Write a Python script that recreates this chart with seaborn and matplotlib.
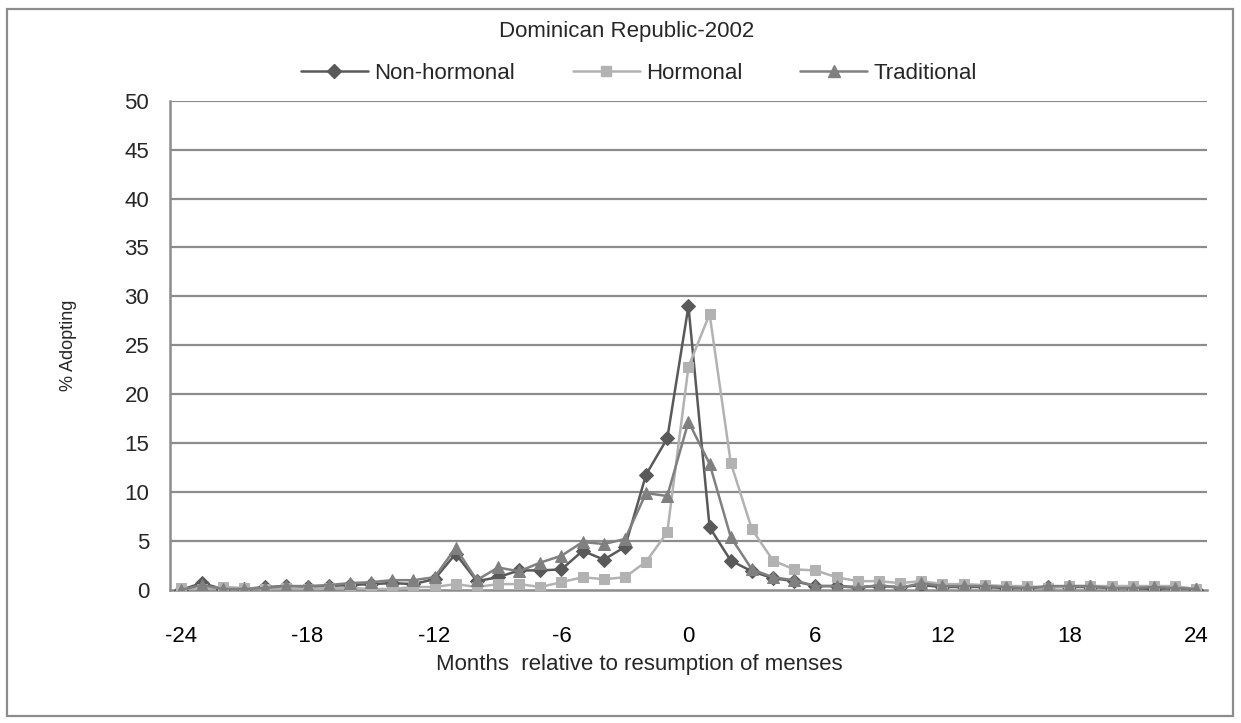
import matplotlib
matplotlib.use("Agg")
import matplotlib.pyplot as plt
import matplotlib.patches as mpatches
from matplotlib.lines import Line2D
from matplotlib.ticker import MultipleLocator, FixedLocator
import pandas as pd
import seaborn as sns

# Data (% adopting by month relative to menses)
months = list(range(-24, 25))

non_hormonal = [0.0, 0.7, 0.1, 0.1, 0.3, 0.4, 0.3, 0.4, 0.5, 0.6, 0.7, 0.6,
                1.1, 3.7, 0.9, 1.3, 2.0, 2.0, 2.1, 4.0, 3.1, 4.4, 11.8, 15.5,
                29.0,
                6.4, 3.0, 1.9, 1.2, 0.9, 0.4, 0.4, 0.3, 0.4, 0.3, 0.5, 0.3,
                0.3, 0.3, 0.2, 0.2, 0.3, 0.3, 0.3, 0.2, 0.2, 0.1, 0.2, 0.0]

hormonal = [0.2, 0.1, 0.3, 0.2, 0.1, 0.2, 0.1, 0.2, 0.2, 0.1, 0.1, 0.3,
            0.3, 0.6, 0.3, 0.6, 0.6, 0.3, 0.8, 1.3, 1.1, 1.3, 2.9, 5.9,
            22.8,
            28.2, 13.0, 6.2, 3.0, 2.1, 2.0, 1.3, 0.9, 0.9, 0.7, 0.9, 0.6,
            0.6, 0.5, 0.4, 0.4, 0.2, 0.4, 0.4, 0.4, 0.4, 0.4, 0.4, 0.1]

traditional = [0.0, 0.5, 0.1, 0.1, 0.2, 0.4, 0.4, 0.5, 0.7, 0.8, 1.0, 1.0,
               1.3, 4.3, 1.0, 2.3, 1.9, 2.8, 3.5, 4.9, 4.7, 5.2, 9.9, 9.6,
               17.2,
               12.9, 5.4, 2.1, 1.3, 1.0, 0.4, 0.4, 0.2, 0.5, 0.2, 0.7, 0.4,
               0.4, 0.4, 0.3, 0.2, 0.4, 0.4, 0.4, 0.2, 0.2, 0.3, 0.2, 0.1]

series_names = ["Non-hormonal", "Hormonal", "Traditional"]
colors = {"Non-hormonal": "#595959", "Hormonal": "#b2b2b2", "Traditional": "#808080"}
markers = {"Non-hormonal": "D", "Hormonal": "s", "Traditional": "^"}

df = pd.DataFrame({
    "month": months * 3,
    "value": non_hormonal + hormonal + traditional,
    "method": [n for n in series_names for _ in months],
})

sns.set_style("white")
plt.rcParams["font.family"] = ["Liberation Sans", "DejaVu Sans"]
plt.rcParams["axes.unicode_minus"] = False

fig = plt.figure(figsize=(12.41, 7.23), dpi=100)
ax = fig.add_axes([0.137, 0.184, 0.8355, 0.6767])

# gridlines first so lines sit on top
for y in range(5, 55, 5):
    ax.axhline(y, color="#8c8c8c", lw=1.6, zorder=0)

sizes = {"Non-hormonal": 7, "Hormonal": 7, "Traditional": 8}
for name in series_names:
    sub = df[df["method"] == name]
    sns.lineplot(data=sub, x="month", y="value", ax=ax, color=colors[name],
                 marker=markers[name], markersize=sizes[name],
                 markeredgecolor=colors[name], lw=1.8, legend=False, zorder=3)

ax.set_xlim(-24.5, 24.5)
ax.set_ylim(0, 50)

ax.xaxis.set_major_locator(FixedLocator([-24, -18, -12, -6, 0, 6, 12, 18, 24]))
ax.xaxis.set_minor_locator(FixedLocator([m - 0.5 for m in months] + [24.5]))
ax.yaxis.set_major_locator(MultipleLocator(5))
ax.tick_params(axis="x", which="major", length=0, pad=26, labelsize=16, colors="black")
ax.tick_params(axis="x", which="minor", length=7, width=1.6, color="#8c8c8c", direction="out")
ax.tick_params(axis="y", which="major", length=7, width=1.6, color="#8c8c8c",
               direction="out", labelsize=16, pad=8)

for s in ["top", "right"]:
    ax.spines[s].set_visible(False)
for s in ["left", "bottom"]:
    ax.spines[s].set_color("#8c8c8c")
    ax.spines[s].set_linewidth(1.8)
ax.spines["bottom"].set_zorder(2)

ax.set_xlabel("Months  relative to resumption of menses", fontsize=16)
ax.xaxis.set_label_coords(0.453, -0.131)
ax.set_ylabel("% Adopting", fontsize=13, labelpad=34)

fig.text(0.505, 0.957, "Dominican Republic-2002", ha="center", va="center", fontsize=16)

handles = [Line2D([0], [0], color=colors[n], marker=markers[n], markersize=sizes[n],
                  markeredgecolor=colors[n], lw=1.8) for n in series_names]
fig.legend(handles, series_names, loc="center", bbox_to_anchor=(0.515, 0.899), ncol=3,
           frameon=False, fontsize=16, handlelength=3.0, handletextpad=0.3,
           columnspacing=2.6)

# outer chart border
fig.patches.append(mpatches.Rectangle((0.0056, 0.01), 0.988, 0.978, transform=fig.transFigure,
                                      fill=False, edgecolor="#8c8c8c", lw=1.6))

fig.savefig("out.png", dpi=100)
